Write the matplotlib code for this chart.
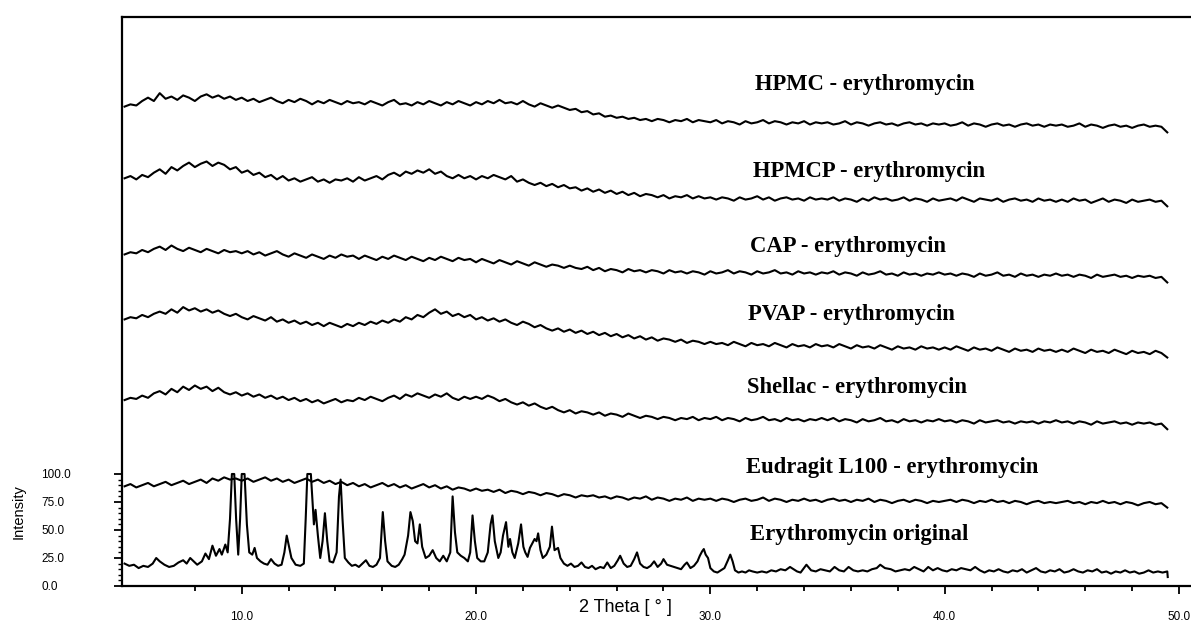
import numpy as np
import matplotlib
matplotlib.use('Agg')
import matplotlib.pyplot as plt
from matplotlib.ticker import FixedLocator, FormatStrFormatter

# amorphous patterns, read every 0.25 deg from 5.0 to 49.5 (stacked intensity units)
hpmc = [428, 430, 429, 433, 436, 433, 440, 435, 437, 434, 438, 436, 433, 437, 439, 436, 438, 435, 437, 434,
        436, 433, 435, 432, 434, 436, 433, 431, 434, 432, 435, 433, 430, 433, 431, 434, 432, 430, 433, 431,
        432, 430, 433, 431, 429, 432, 434, 430, 431, 429, 432, 430, 433, 431, 429, 432, 430, 433, 431, 429,
        432, 430, 433, 431, 434, 431, 432, 430, 433, 430, 428, 431, 429, 427, 429, 427, 425, 426, 423, 424,
        421, 422, 419, 420, 418, 419, 417, 418, 416, 417, 415, 417, 416, 414, 416, 415, 417, 414, 416, 415,
        414, 416, 413, 415, 414, 412, 415, 413, 414, 416, 413, 415, 414, 412, 414, 413, 415, 412, 414, 413,
        414, 412, 413, 415, 412, 414, 413, 411, 413, 414, 412, 413, 411, 413, 414, 412, 413, 411, 413, 412,
        413, 411, 412, 414, 411, 413, 412, 410, 412, 413, 411, 412, 410, 412, 413, 411, 412, 410, 412, 411,
        412, 410, 411, 413, 410, 412, 411, 409, 411, 412, 410, 411, 409, 411, 412, 410, 411, 410, 405]
hpmcp = [364, 366, 363, 367, 365, 369, 372, 368, 374, 371, 375, 378, 374, 377, 379, 375, 378, 376, 372, 374,
         369, 371, 367, 369, 365, 367, 363, 366, 362, 364, 361, 363, 365, 361, 363, 360, 363, 362, 364, 361,
         365, 362, 364, 366, 363, 367, 369, 366, 370, 368, 371, 369, 372, 368, 370, 366, 364, 367, 364, 366,
         363, 366, 364, 367, 365, 363, 366, 361, 363, 360, 358, 360, 357, 359, 356, 358, 355, 356, 353, 355,
         352, 354, 351, 353, 350, 352, 349, 351, 348, 350, 349, 347, 349, 346, 348, 347, 349, 346, 348, 346,
         347, 345, 347, 346, 344, 347, 345, 346, 348, 345, 347, 344, 346, 347, 345, 346, 344, 347, 345, 346,
         345, 347, 344, 346, 345, 343, 346, 344, 347, 345, 346, 344, 345, 347, 344, 346, 345, 343, 346, 344,
         345, 346, 344, 347, 345, 343, 346, 345, 344, 346, 343, 345, 346, 344, 345, 343, 346, 344, 345, 343,
         345, 343, 346, 344, 345, 342, 344, 346, 343, 345, 344, 342, 345, 343, 344, 345, 343, 344, 339]
cap = [296, 298, 297, 300, 298, 301, 303, 300, 304, 301, 299, 302, 300, 298, 301, 299, 297, 300, 298, 299,
       297, 299, 296, 298, 295, 297, 299, 296, 294, 297, 295, 293, 296, 294, 292, 295, 293, 296, 294, 295,
       292, 295, 293, 291, 294, 292, 295, 293, 291, 294, 292, 290, 293, 291, 294, 292, 290, 293, 291, 292,
       289, 292, 290, 288, 291, 289, 287, 290, 288, 286, 289, 287, 285, 287, 286, 284, 286, 284, 283, 285,
       282, 284, 281, 283, 282, 280, 283, 281, 282, 280, 282, 281, 279, 282, 280, 281, 279, 281, 280, 278,
       281, 279, 280, 282, 279, 281, 280, 278, 281, 279, 280, 282, 279, 280, 278, 281, 279, 280, 278, 280,
       279, 281, 278, 280, 279, 277, 280, 278, 279, 281, 278, 279, 277, 280, 278, 279, 277, 279, 278, 280,
       278, 279, 277, 279, 278, 276, 279, 277, 278, 280, 277, 278, 276, 279, 277, 278, 276, 278, 277, 279,
       277, 278, 276, 278, 277, 275, 278, 276, 277, 278, 276, 277, 275, 277, 276, 277, 275, 276, 271]
pvap = [238, 240, 239, 242, 240, 243, 245, 243, 247, 244, 249, 246, 248, 245, 247, 244, 246, 243, 241, 243,
        240, 238, 241, 239, 237, 240, 236, 238, 235, 237, 234, 236, 233, 235, 232, 235, 233, 231, 234, 232,
        235, 233, 236, 234, 237, 235, 238, 236, 240, 238, 242, 240, 244, 247, 243, 245, 241, 243, 240, 242,
        238, 240, 237, 239, 236, 238, 235, 233, 236, 234, 231, 233, 230, 228, 230, 227, 229, 226, 228, 225,
        227, 224, 226, 223, 225, 222, 224, 221, 223, 220, 222, 219, 221, 220, 218, 220, 217, 219, 218, 216,
        218, 216, 217, 215, 218, 216, 214, 217, 215, 216, 214, 217, 215, 213, 216, 214, 215, 213, 216, 214,
        215, 213, 216, 214, 212, 215, 213, 214, 212, 215, 213, 211, 214, 212, 213, 211, 214, 212, 213, 211,
        213, 211, 214, 212, 210, 213, 211, 212, 210, 213, 211, 209, 212, 210, 211, 209, 212, 210, 211, 209,
        211, 209, 212, 210, 208, 211, 209, 210, 208, 211, 209, 207, 210, 208, 209, 207, 210, 208, 204]
shellac = [166, 168, 167, 170, 168, 172, 174, 171, 176, 173, 178, 175, 179, 176, 178, 174, 177, 173, 171, 173,
           170, 172, 169, 171, 168, 170, 167, 169, 166, 168, 165, 167, 164, 166, 163, 165, 167, 164, 166, 165,
           168, 166, 169, 167, 165, 168, 170, 167, 171, 169, 172, 170, 168, 171, 169, 172, 168, 166, 169, 167,
           169, 167, 170, 168, 165, 167, 164, 162, 164, 161, 163, 160, 158, 160, 157, 155, 157, 154, 156, 155,
           153, 155, 152, 154, 153, 151, 154, 152, 150, 152, 151, 149, 151, 150, 148, 150, 149, 151, 148, 150,
           149, 151, 148, 150, 149, 147, 150, 148, 149, 151, 148, 149, 147, 150, 148, 149, 147, 149, 148, 150,
           148, 150, 147, 149, 148, 146, 149, 147, 148, 150, 147, 148, 146, 149, 147, 148, 146, 148, 147, 149,
           147, 148, 146, 148, 147, 145, 148, 146, 147, 148, 146, 147, 145, 147, 146, 147, 145, 147, 146, 148,
           146, 147, 145, 147, 146, 144, 147, 145, 146, 147, 145, 146, 144, 146, 145, 146, 144, 145, 140]
eudragit = [89, 91, 88, 90, 92, 89, 91, 93, 90, 92, 94, 91, 93, 95, 92, 96, 94, 97, 95, 96,
            94, 96, 93, 95, 97, 94, 96, 93, 95, 92, 94, 96, 93, 95, 92, 94, 91, 93, 90, 92,
            89, 91, 88, 90, 92, 89, 91, 88, 90, 87, 89, 91, 88, 90, 87, 89, 86, 88, 87, 85,
            87, 85, 86, 84, 86, 83, 85, 84, 82, 84, 83, 81, 83, 82, 80, 82, 81, 79, 81, 80,
            81, 79, 80, 78, 80, 79, 77, 79, 78, 80, 77, 79, 78, 76, 78, 77, 79, 76, 78, 77,
            78, 76, 78, 77, 75, 77, 78, 76, 77, 79, 76, 78, 77, 75, 77, 76, 78, 76, 77, 75,
            77, 78, 76, 77, 75, 77, 76, 78, 75, 77, 76, 74, 76, 77, 75, 77, 76, 74, 76, 75,
            76, 77, 75, 77, 76, 74, 76, 75, 77, 75, 76, 74, 76, 75, 73, 75, 76, 74, 75, 74,
            75, 76, 74, 75, 73, 75, 74, 76, 74, 75, 73, 75, 74, 72, 74, 75, 73, 74, 70]

# crystalline erythromycin, vertices
ery_x = [5.0, 5.2, 5.4, 5.6, 5.8, 6.0, 6.2, 6.35, 6.5, 6.7, 6.9, 7.1, 7.3, 7.5, 7.65, 7.8, 7.95, 8.1,
         8.3, 8.45, 8.6, 8.75, 8.9, 9.05, 9.15, 9.3, 9.4, 9.5, 9.58, 9.68, 9.76, 9.85, 9.93, 10.0, 10.12,
         10.22, 10.32, 10.45, 10.55, 10.65, 10.8, 10.95, 11.1, 11.25, 11.4, 11.55, 11.7, 11.82, 11.92,
         12.02, 12.12, 12.3, 12.5, 12.65, 12.73, 12.8, 12.95, 13.02, 13.08, 13.15, 13.25, 13.35, 13.45,
         13.55, 13.65, 13.75, 13.9, 14.05, 14.15, 14.22, 14.3, 14.4, 14.55, 14.7, 14.85, 15.0, 15.15,
         15.3, 15.45, 15.6, 15.75, 15.9, 16.02, 16.12, 16.22, 16.4, 16.55, 16.7, 16.85, 16.95, 17.1, 17.2,
         17.3, 17.4, 17.5, 17.6, 17.7, 17.85, 18.0, 18.15, 18.3, 18.45, 18.6, 18.75, 18.9, 19.0, 19.1,
         19.2, 19.35, 19.5, 19.65, 19.75, 19.85, 19.95, 20.05, 20.2, 20.35, 20.5, 20.62, 20.7, 20.8,
         20.95, 21.05, 21.15, 21.28, 21.38, 21.45, 21.55, 21.65, 21.8, 21.92, 22.02, 22.1, 22.2, 22.3,
         22.4, 22.5, 22.58, 22.65, 22.75, 22.85, 23.0, 23.15, 23.24, 23.35, 23.5, 23.6, 23.75, 23.9,
         24.05, 24.2, 24.35, 24.5, 24.65, 24.8, 24.95, 25.1, 25.3, 25.45, 25.6, 25.75, 25.9, 26.05,
         26.15, 26.3, 26.45, 26.6, 26.75, 26.87, 27.0, 27.15, 27.3, 27.45, 27.6, 27.75, 27.9, 28.0,
         28.15, 28.3, 28.45, 28.6, 28.75, 28.9, 29.0, 29.15, 29.3, 29.45, 29.55, 29.65, 29.72, 29.8,
         29.9, 30.0, 30.15, 30.3, 30.45, 30.6, 30.75, 30.85, 30.95, 31.05, 31.2, 31.35, 31.5, 31.65,
         31.8, 32.0, 32.2, 32.4, 32.6, 32.8, 33.0, 33.2, 33.4, 33.55, 33.7, 33.85, 34.1, 34.3, 34.5,
         34.7, 34.9, 35.1, 35.3, 35.5, 35.7, 35.9, 36.1, 36.3, 36.5, 36.7, 36.9, 37.1, 37.25, 37.45,
         37.7, 37.9, 38.1, 38.3, 38.5, 38.7, 38.9, 39.1, 39.3, 39.5, 39.7, 39.9, 40.1, 40.3, 40.5,
         40.7, 40.9, 41.1, 41.3, 41.5, 41.7, 41.9, 42.1, 42.3, 42.5, 42.7, 42.9, 43.1, 43.3, 43.5,
         43.7, 43.9, 44.1, 44.3, 44.5, 44.7, 44.9, 45.1, 45.3, 45.5, 45.7, 45.9, 46.1, 46.3, 46.5,
         46.7, 46.9, 47.1, 47.3, 47.5, 47.7, 47.9, 48.1, 48.3, 48.5, 48.7, 48.9, 49.1, 49.3, 49.5, 49.52]
ery_y = [20, 18, 19, 16, 18, 17, 20, 25, 22, 19, 17, 18, 21, 23, 20, 25, 22, 19,
         22, 29, 24, 36, 27, 33, 28, 37, 30, 60, 100, 100, 60, 28, 60, 100, 100,
         55, 30, 28, 34, 25, 22, 20, 19, 24, 20, 18, 19, 30, 45,
         35, 25, 19, 18, 20, 60, 100, 100, 75, 55, 68, 45, 25, 40,
         65, 40, 22, 21, 30, 80, 95, 60, 25, 21, 18, 19, 17, 20,
         23, 18, 17, 19, 25, 66, 40, 22, 18, 17, 19, 24, 28, 45, 66,
         58, 40, 38, 55, 35, 25, 27, 32, 25, 22, 27, 22, 30, 80, 48,
         30, 27, 25, 22, 30, 63, 40, 25, 22, 22, 30, 55, 63, 40,
         25, 30, 45, 57, 35, 42, 30, 25, 38, 55, 35, 30, 26, 34,
         38, 42, 40, 47, 32, 25, 28, 35, 53, 32, 34, 25, 20, 18,
         20, 17, 18, 21, 17, 16, 18, 15, 17, 16, 21, 16, 18, 23,
         27, 20, 17, 18, 24, 30, 20, 17, 16, 18, 22, 17, 20, 24,
         19, 18, 17, 16, 15, 19, 21, 16, 18, 22, 27, 31, 33, 28,
         25, 16, 13, 12, 14, 16, 23, 28, 22, 14, 12, 13, 12, 14,
         13, 12, 13, 12, 14, 13, 15, 14, 17, 15, 13, 12, 19, 14, 13,
         15, 14, 13, 17, 14, 13, 17, 14, 13, 14, 13, 15, 16, 19, 16,
         15, 13, 14, 15, 14, 17, 15, 13, 17, 14, 16, 14, 13, 15, 14,
         16, 15, 14, 17, 14, 12, 14, 13, 15, 13, 12, 14, 13, 15, 12,
         14, 16, 13, 12, 14, 13, 15, 12, 13, 15, 13, 12, 14, 13, 15,
         12, 13, 11, 13, 12, 14, 12, 13, 11, 12, 14, 12, 13, 12, 13, 8]

names = ['HPMC - erythromycin', 'HPMCP - erythromycin', 'CAP - erythromycin', 'PVAP - erythromycin',
         'Shellac - erythromycin', 'Eudragit L100 - erythromycin', 'Erythromycin original']
x_ticks = [10, 20, 30, 40, 50]
y_ticks = [0, 25, 50, 75, 100]

amorphous = [hpmc, hpmcp, cap, pvap, shellac, eudragit]
label_pos = [(31.91, 443), (31.81, 365), (31.69, 298), (31.62, 237.5), (31.55, 172), (31.52, 101), (31.69, 41)]

fig = plt.figure(figsize=(11.91, 6.23), dpi=100)
ax = fig.add_axes([122 / 1191, 37 / 623, 1068 / 1191, 569 / 623])

for vals in amorphous:
    x = np.linspace(5.0, 49.5, len(vals))
    ax.plot(x, vals, color='black', lw=1.5)
ax.plot(ery_x, ery_y, color='black', lw=1.5)

for name, (tx, ty) in zip(names, label_pos):
    ax.text(tx, ty, name, family='Liberation Serif', fontweight='bold', fontsize=16.3,
            ha='left', va='baseline')

ax.set_xlim(4.89, 50.47)
ax.set_ylim(0, 508)
ax.spines['right'].set_visible(False)
for s in ['left', 'top', 'bottom']:
    ax.spines[s].set_linewidth(1.6)

tick_font = ['Liberation Sans Narrow', 'Liberation Sans']
ax.xaxis.set_major_locator(FixedLocator(x_ticks))
ax.xaxis.set_minor_locator(FixedLocator([v for v in range(8, 50, 2) if v % 10]))
ax.xaxis.set_major_formatter(FormatStrFormatter('%.1f'))
ax.yaxis.set_major_locator(FixedLocator(y_ticks))
ax.yaxis.set_minor_locator(FixedLocator([v for v in range(5, 100, 5) if v % 25]))
ax.yaxis.set_major_formatter(FormatStrFormatter('%.1f'))
ax.tick_params(axis='x', which='major', direction='out', length=6, width=1.3, pad=12)
ax.tick_params(axis='x', which='minor', direction='out', length=3.5, width=1.3)
ax.tick_params(axis='y', which='major', direction='out', length=6, width=1.3, pad=52)
ax.tick_params(axis='y', which='minor', direction='out', length=3, width=1.0)
for lbl in ax.get_xticklabels() + ax.get_yticklabels():
    lbl.set_family(tick_font)
    lbl.set_fontsize(8.5)
for lbl in ax.get_yticklabels():
    lbl.set_horizontalalignment('left')

fig.text(19 / 1191, 1 - 512 / 623, 'Intensity', rotation=90, ha='center', va='center',
         fontsize=10.5, family='Liberation Sans')
fig.text(625 / 1191, 1 - 607 / 623, '2 Theta [ \u00b0 ]', ha='center', va='center',
         fontsize=13, family='Liberation Sans')

fig.savefig('out.png', dpi=100)
